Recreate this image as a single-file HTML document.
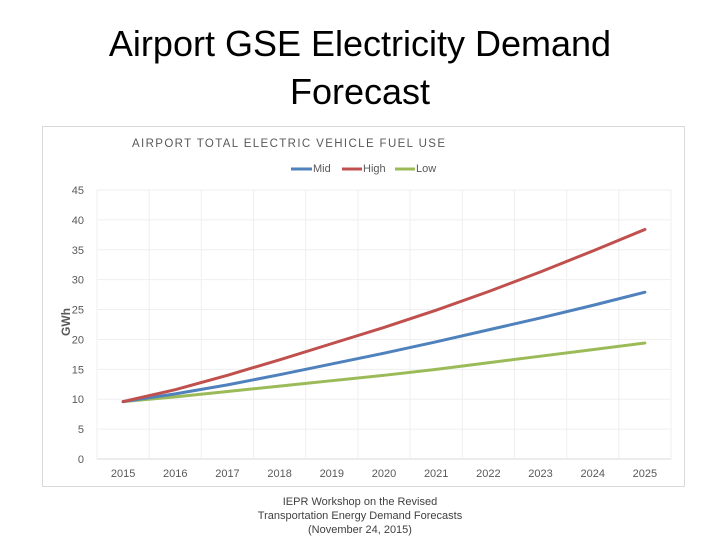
<!DOCTYPE html>
<html><head><meta charset="utf-8"><style>
body{margin:0;width:720px;height:540px;background:#fff;overflow:hidden;font-family:"Liberation Sans",sans-serif}
</style></head><body>
<svg width="720" height="540" xmlns="http://www.w3.org/2000/svg">
<text x="360" y="56" text-anchor="middle" font-size="36" fill="#000">Airport GSE Electricity Demand</text>
<text x="360" y="104" text-anchor="middle" font-size="36" fill="#000">Forecast</text>
<rect x="42.5" y="126.5" width="642" height="360" fill="#fff" stroke="#d9d9d9"/>
<text x="132" y="147" font-size="11.5" fill="#595959" textLength="313" lengthAdjust="spacing">AIRPORT TOTAL ELECTRIC VEHICLE FUEL USE</text>
<g id="legend" font-size="11" fill="#595959">
<line x1="291" y1="169" x2="312" y2="169" stroke="#4f81bd" stroke-width="3"/><text x="313" y="172">Mid</text>
<line x1="342" y1="169" x2="362" y2="169" stroke="#c0504d" stroke-width="3"/><text x="363" y="172">High</text>
<line x1="395" y1="169" x2="415" y2="169" stroke="#9bbb59" stroke-width="3"/><text x="416" y="172">Low</text>
</g>
<text transform="translate(70,322) rotate(-90)" text-anchor="middle" font-size="12" font-weight="bold" fill="#595959">GWh</text>
<g id="grid"></g><g id="axes"></g><g id="series"></g>
<text x="360" y="505" text-anchor="middle" font-size="11" fill="#404040">IEPR Workshop on the Revised</text>
<text x="360" y="519" text-anchor="middle" font-size="11" fill="#404040">Transportation Energy Demand Forecasts</text>
<text x="360" y="533" text-anchor="middle" font-size="11" fill="#404040">(November 24, 2015)</text>
</svg>
<script>
const years=["2015","2016","2017","2018","2019","2020","2021","2022","2023","2024","2025"];
const midValues=[9.6,10.9,12.4,14.1,15.9,17.7,19.6,21.6,23.6,25.7,27.9];
const highValues=[9.6,11.6,14.0,16.6,19.3,22.0,24.9,28.0,31.3,34.8,38.4];
const lowValues=[9.6,10.4,11.3,12.2,13.1,14.0,15.0,16.1,17.2,18.3,19.4];
const yTicks=[0,5,10,15,20,25,30,35,40,45];
const NS="http://www.w3.org/2000/svg";
const L=97,R=671,T=190,B=459,yMax=45;
const band=(R-L)/years.length;
const xs=i=>L+band*(i+0.5);
const ys=v=>B-(v/yMax)*(B-T);
const grid=document.getElementById('grid'),axes=document.getElementById('axes'),ser=document.getElementById('series');
function mk(tag,attrs,parent){const e=document.createElementNS(NS,tag);for(const k in attrs)e.setAttribute(k,attrs[k]);parent.appendChild(e);return e;}
yTicks.forEach(t=>{
 const g=mk('line',{x1:L,x2:R,y1:ys(t),y2:ys(t),stroke:t===0?'#d9d9d9':'#efefef'},grid);
 
 
 const tx=mk('text',{x:84,y:ys(t)+4,'text-anchor':'end','font-size':11,fill:'#595959'},axes);
 tx.textContent=t;
 
 
});
for(let i=0;i<=years.length;i++){
 const g=mk('line',{x1:L+band*i,x2:L+band*i,y1:T,y2:B,stroke:'#efefef'},grid);
 
 
}
years.forEach((y,i)=>{
 const tx=mk('text',{x:xs(i),y:477,'text-anchor':'middle','font-size':11,fill:'#595959'},axes);
 tx.textContent=y;
 
 
});
[[lowValues,'#9bbb59','line-low'],[midValues,'#4f81bd','line-mid'],[highValues,'#c0504d','line-high']].forEach(([vals,c,n])=>{
 const p=mk('polyline',{points:vals.map((v,i)=>xs(i)+','+ys(v)).join(' '),fill:'none',stroke:c,'stroke-width':3,'stroke-linejoin':'round','stroke-linecap':'round'},ser);
 
 
});
</script>
</body></html>
